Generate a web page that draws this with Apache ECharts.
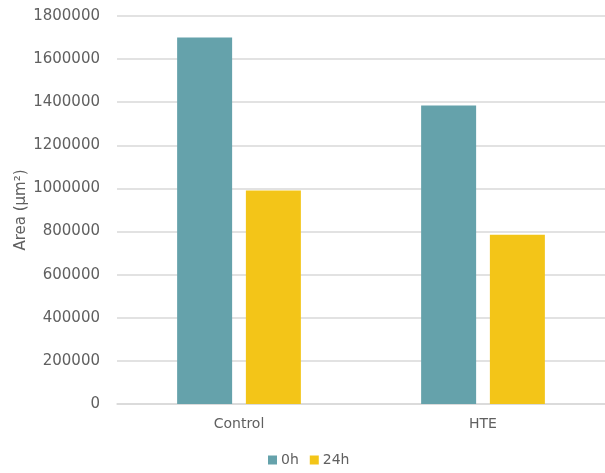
<!DOCTYPE html>
<html>
<head>
<meta charset="utf-8">
<script src="https://cdn.jsdelivr.net/npm/echarts@6/dist/echarts.min.js"></script>
<style>
  html, body { margin: 0; padding: 0; background: #fff; }
  #chart { width: 605px; height: 473px; }
</style>
</head>
<body>
<div id="chart"></div>
<script>
// Wound area per group at two time points
const categories = ['Control', 'HTE'];
const seriesNames = ['0h', '24h'];
const area0h = [1700000, 1385000];
const area24h = [990000, 785000];
const yTicks = { min: 0, max: 1800000, interval: 200000 };

const FONT = '"DejaVu Sans", "Liberation Sans", sans-serif';
const TEXT = '#606060';

const chart = echarts.init(document.getElementById('chart'));
chart.setOption({
  animation: false,
  backgroundColor: '#ffffff',
  textStyle: { fontFamily: FONT },
  grid: { left: 117, right: -2, top: 16, bottom: 69, containLabel: false },
  legend: {
    data: seriesNames,
    bottom: 1,
    left: 263,
    itemWidth: 9,
    itemHeight: 9,
    itemGap: 11,
    icon: 'rect',
    textStyle: { color: TEXT, fontSize: 14, fontFamily: FONT, padding: [0, 0, 0, -1] }
  },
  xAxis: {
    type: 'category',
    data: categories,
    axisLine: { lineStyle: { color: '#d9d9d9', width: 1.5 } },
    axisTick: { show: false },
    axisLabel: { color: TEXT, fontSize: 14, margin: 13, fontFamily: FONT }
  },
  yAxis: {
    type: 'value',
    min: yTicks.min,
    max: yTicks.max,
    interval: yTicks.interval,
    name: 'Area (µm²)',
    nameLocation: 'middle',
    nameGap: 88,
    nameMoveOverlap: false,
    nameTextStyle: { color: TEXT, fontSize: 15, fontFamily: FONT },
    axisLine: { show: false },
    axisTick: { show: false },
    axisLabel: {
      color: TEXT, fontSize: 15, margin: 17, fontFamily: FONT,
      formatter: (v) => String(v)
    },
    splitLine: { lineStyle: { color: '#d9d9d9', width: 1.5 } }
  },
  series: [
    {
      name: seriesNames[0],
      type: 'bar',
      data: area0h,
      barWidth: 55,
      barGap: '25%',
      itemStyle: { color: '#65A2AB' }
    },
    {
      name: seriesNames[1],
      type: 'bar',
      data: area24h,
      barWidth: 55,
      itemStyle: { color: '#F3C518' }
    }
  ]
});
</script>
</body>
</html>
